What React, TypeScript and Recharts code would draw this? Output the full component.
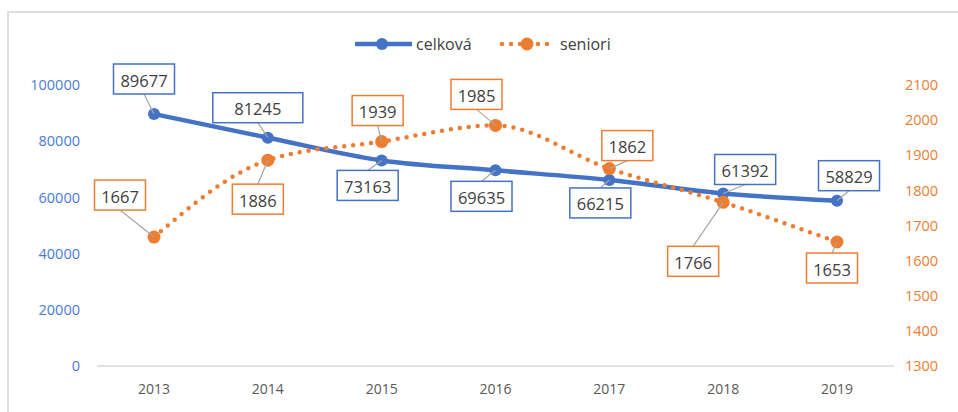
import React from "react";
import { LabelList, Line, LineChart, XAxis, YAxis } from "recharts";

const YEARS = ["2013", "2014", "2015", "2016", "2017", "2018", "2019"];
const CELKOVA = [89677, 81245, 73163, 69635, 66215, 61392, 58829];
const SENIORI = [1667, 1886, 1939, 1985, 1862, 1766, 1653];
const LEFT_TICKS = [0, 20000, 40000, 60000, 80000, 100000];
const RIGHT_TICKS = [1300, 1400, 1500, 1600, 1700, 1800, 1900, 2000, 2100];

const BLUE = "#4472C4";
const ORANGE = "#ED7D31";
const TEXT = "#404040";
const FONT = "'Open Sans', 'Liberation Sans', sans-serif";

// hand-placed data label boxes (offset of box centre from the point, box width)
const CELKOVA_BOXES = [
  { dx: -10, dy: -35, w: 61 },
  { dx: -10, dy: -30, w: 90 },
  { dx: -14, dy: 25, w: 61 },
  { dx: -14, dy: 26, w: 61 },
  { dx: -9, dy: 23, w: 61 },
  { dx: 22, dy: -24, w: 61 },
  { dx: 12, dy: -25, w: 61 },
];
const SENIORI_BOXES = [
  { dx: -34, dy: -42, w: 51 },
  { dx: -10, dy: 39, w: 51 },
  { dx: -4, dy: -31, w: 51 },
  { dx: -19, dy: -31, w: 51 },
  { dx: 18, dy: -23, w: 51 },
  { dx: -30, dy: 59, w: 51 },
  { dx: -5, dy: 26, w: 51 },
];

const data = YEARS.map((year, i) => ({ year, celkova: CELKOVA[i], seniori: SENIORI[i] }));

function makeBoxLabel(boxes: { dx: number; dy: number; w: number }[], color: string) {
  return (props: any) => {
    const px = props.x ?? props.viewBox?.x;
    const py = props.y ?? props.viewBox?.y;
    const idx = props.index ?? 0;
    const box = boxes[idx];
    if (px == null || py == null || !box) return null;
    const h = 30;
    const cx = px + box.dx;
    const cy = py + box.dy;
    const attachY = py > cy ? cy + h / 2 : cy - h / 2;
    return (
      <g>
        <line x1={px} y1={py} x2={cx} y2={attachY} stroke="#a6a6a6" strokeWidth={1.2} />
        <rect x={cx - box.w / 2} y={cy - h / 2} width={box.w} height={h} fill="#fff" stroke={color} strokeWidth={1.5} />
        <text x={cx} y={cy + 1} textAnchor="middle" dominantBaseline="central" fill={TEXT} fontSize={16.5} fontFamily={FONT}>
          {props.value}
        </text>
      </g>
    );
  };
}

function LegendOverlay() {
  return (
    <svg width={958} height={70} style={{ position: "absolute", left: 0, top: 10 }}>
      <line x1={355} y1={34} x2={412} y2={34} stroke={BLUE} strokeWidth={4.5} />
      <circle cx={382} cy={34} r={6} fill={BLUE} />
      <text x={416} y={40} fontSize={16} fill={TEXT} fontFamily={FONT}>celková</text>
      <line x1={502} y1={34} x2={551} y2={34} stroke={ORANGE} strokeWidth={4.5} strokeDasharray="0 9" strokeLinecap="round" />
      <circle cx={527} cy={34} r={6.5} fill={ORANGE} />
      <text x={560} y={40} fontSize={16} fill={TEXT} fontFamily={FONT}>seniori</text>
    </svg>
  );
}

export default function App() {
  return (
    <div style={{ position: "absolute", left: 0, top: 0, width: 958, height: 412, overflow: "hidden", background: "#fff" }}>
      <div style={{ position: "absolute", left: 7, top: 11, width: 1200, height: 800, border: "2px solid #dedede" }} />
      <LegendOverlay />
      <div style={{ position: "absolute", left: 0, top: 0 }}>
        <LineChart width={958} height={412} data={data} margin={{ top: 85, right: 0, bottom: 0, left: 0 }}>
          <XAxis
            dataKey="year"
            height={46}
            padding={{ left: 57, right: 57 }}
            tickLine={false}
            tickSize={0}
            tickMargin={18}
            axisLine={{ stroke: "#d9d9d9", strokeWidth: 1.5 }}
            tick={{ fill: "#595959", fontSize: 14, fontFamily: FONT }}
          />
          <YAxis
            yAxisId="left"
            width={97}
            domain={[0, 100000]}
            ticks={LEFT_TICKS}
            axisLine={false}
            tickLine={false}
            tickSize={0}
            tickMargin={17}
            tick={{ fill: "#4a7bd6", fontSize: 14.5, fontFamily: FONT }}
          />
          <YAxis
            yAxisId="right"
            orientation="right"
            width={64}
            domain={[1300, 2100]}
            ticks={RIGHT_TICKS}
            axisLine={false}
            tickLine={false}
            tickSize={0}
            tickMargin={11}
            tick={{ fill: ORANGE, fontSize: 14.5, fontFamily: FONT }}
          />
          <Line
            yAxisId="left"
            type="monotone"
            dataKey="celkova"
            stroke={BLUE}
            strokeWidth={4.5}
            dot={{ r: 6, fill: BLUE, stroke: BLUE, strokeWidth: 0 }}
            isAnimationActive={false}
          >
            <LabelList dataKey="celkova" content={makeBoxLabel(CELKOVA_BOXES, BLUE)} />
          </Line>
          <Line
            yAxisId="right"
            type="monotone"
            dataKey="seniori"
            stroke={ORANGE}
            strokeWidth={4.5}
            strokeDasharray="0 9"
            strokeLinecap="round"
            dot={{ r: 6.5, fill: ORANGE, stroke: ORANGE, strokeWidth: 0, strokeDasharray: "0" }}
            isAnimationActive={false}
          >
            <LabelList dataKey="seniori" content={makeBoxLabel(SENIORI_BOXES, ORANGE)} />
          </Line>
        </LineChart>
      </div>
    </div>
  );
}
